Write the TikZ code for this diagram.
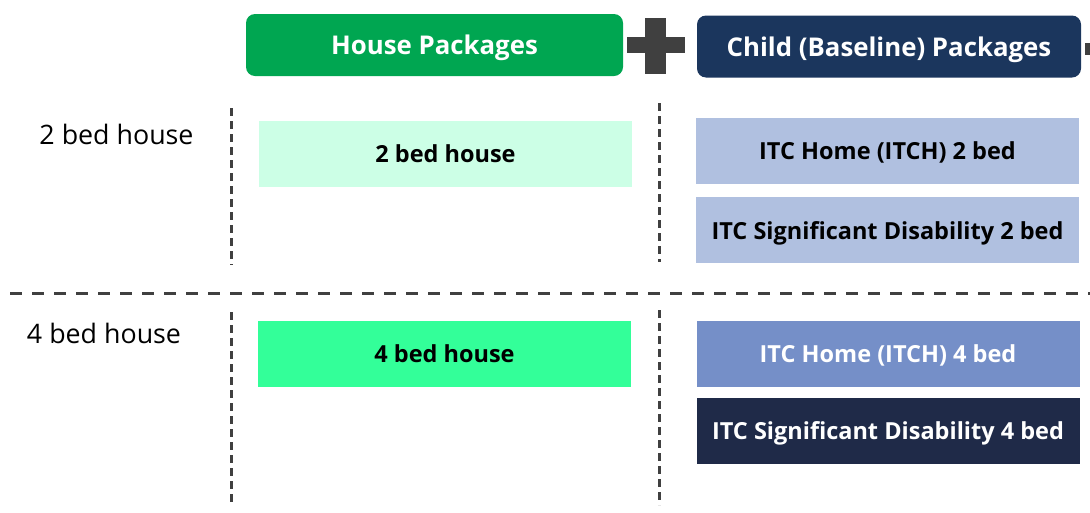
\documentclass[tikz,border=0pt]{standalone}
\usepackage{fontspec}
\setmainfont{Open Sans}
\usetikzlibrary{positioning}

\definecolor{housegreen}{RGB}{0,166,81}
\definecolor{childnavy}{RGB}{27,54,93}
\definecolor{plusgray}{RGB}{64,64,64}
\definecolor{mint}{RGB}{204,255,230}
\definecolor{spring}{RGB}{51,255,153}
\definecolor{paleblue}{RGB}{176,192,224}
\definecolor{midblue}{RGB}{117,143,200}
\definecolor{darknavy}{RGB}{31,42,72}

\begin{document}
\begin{tikzpicture}[x=1pt,y=-1pt,inner sep=0pt,text depth=0pt,
                    font=\bfseries\fontsize{23.5}{28}\selectfont]
  \tikzstyle{header}=[rounded corners=9pt,minimum height=62pt,text=white,
                      font=\bfseries\fontsize{25.8}{30}\selectfont]
  \tikzstyle{pkg}=[minimum width=383pt,minimum height=66pt]
  \tikzstyle{rowlabel}=[font=\fontsize{26.8}{32}\selectfont]
  \tikzstyle{vdiv}=[draw=plusgray,line width=3pt,dash pattern=on 8pt off 5pt]
  \tikzstyle{hdiv}=[draw=plusgray,line width=3pt,dash pattern=on 12pt off 10pt]

  \useasboundingbox (0,0) rectangle (1090,512);

  % column headers
  \node[header,fill=housegreen,minimum width=377pt] (house) at (434.5,45) {House Packages};
  \node[header,fill=childnavy,minimum width=384pt]  (child) at (889,46.5) {Child (Baseline) Packages};
  \fill[plusgray] (627,37) rectangle (685,53);
  \fill[plusgray] (645,18) rectangle (666,74);
  \fill[plusgray] (1085,43) rectangle (1090,55);

  % row labels
  \node[rowlabel] (row2) at (116.5,134) {2 bed house};
  \node[rowlabel] (row4) at (104,333) {4 bed house};

  % house packages
  \node[pkg,fill=mint,minimum width=373pt]   (house2) at (445.5,154) {2 bed house};
  \node[pkg,fill=spring,minimum width=373pt] (house4) at (444.5,354) {4 bed house};

  % child packages
  \node[pkg,fill=paleblue] (itch2) at (887.5,151) {ITC Home (ITCH) 2 bed};
  \node[pkg,fill=paleblue,below=13pt of itch2] (itsd2) {ITC Significant Disability 2 bed};
  \node[pkg,fill=midblue,text=white] (itch4) at (888,353.5) {ITC Home (ITCH) 4 bed};
  \node[pkg,fill=darknavy,text=white,below=11pt of itch4] (itsd4) {ITC Significant Disability 4 bed};

  % dividers
  \draw[vdiv] (231,108) -- (231,265);
  \draw[vdiv] (659,103) -- (659,262);
  \draw[hdiv] (10,293) -- (1090,293);
  \draw[vdiv] (231,312) -- (231,505);
  \draw[vdiv] (659,310) -- (659,505);
\end{tikzpicture}
\end{document}
